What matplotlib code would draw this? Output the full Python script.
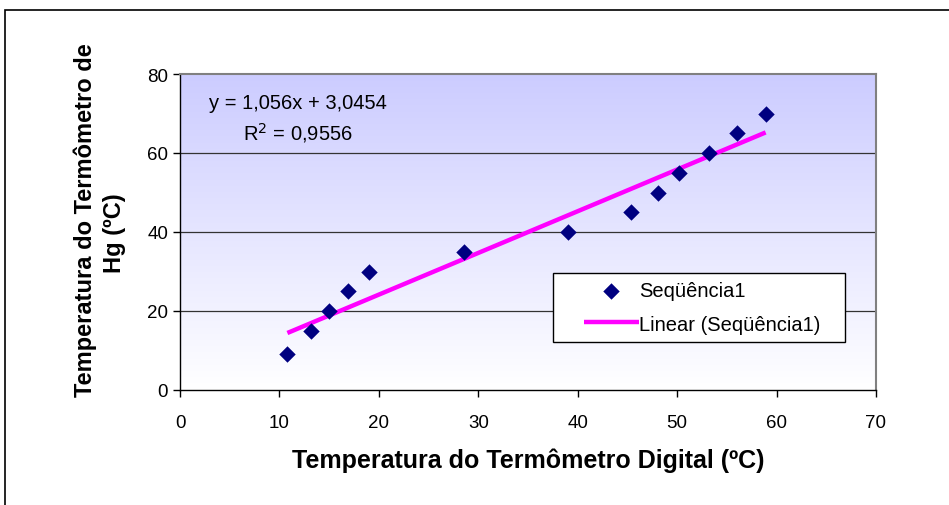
import numpy as np
import matplotlib
matplotlib.use("Agg")
import matplotlib.pyplot as plt
from matplotlib.patches import Rectangle
from matplotlib.legend_handler import HandlerLine2D, HandlerPathCollection

x_digital = [10.8, 13.2, 15.0, 16.9, 19.0, 28.6, 39.0, 45.4, 48.1, 50.2, 53.2, 56.0, 58.9]
y_hg = [9, 15, 20, 25, 30, 35, 40, 45, 50, 55, 60, 65, 70]
series_label = "Seqüência1"
trend_label = "Linear (Seqüência1)"
equation_text = "y = 1,056x + 3,0454"
r2_text = "R$^2$ = 0,9556"
x_label = "Temperatura do Termômetro Digital (ºC)"
y_label_lines = ["Temperatura do Termômetro de", "Hg (ºC)"]
x_ticks = [0, 10, 20, 30, 40, 50, 60, 70]
y_ticks = [0, 20, 40, 60, 80]

plt.rcParams['font.family'] = ['Liberation Sans', 'DejaVu Sans']

W, H = 949, 506
fig = plt.figure(figsize=(W / 100, H / 100), dpi=100)
fig.patch.set_facecolor('white')

# outer chart border
fig.patches.append(Rectangle((5 / W, -0.2), 1.2, 1.2 - 11 / H, transform=fig.transFigure,
                             fill=False, edgecolor='black', linewidth=1.2))

ax = fig.add_axes([180 / W, 1 - 391 / H, 696 / W, 316 / H])
ax.set_xlim(0, 70)
ax.set_ylim(0, 80)

# gradient background
grad = np.linspace(0, 1, 256).reshape(-1, 1)
top = np.array([204, 204, 255]) / 255.0
bot = np.array([255, 255, 255]) / 255.0
img = (bot + (top - bot) * grad).reshape(256, 1, 3)
ax.imshow(img, extent=[0, 70, 0, 80], origin='lower', aspect='auto', zorder=0)

for yv in y_ticks[1:-1]:
    ax.axhline(yv, color='#333333', linewidth=0.9, zorder=1)

xs = np.array(x_digital)
ys = np.array(y_hg)
coef = np.polyfit(xs, ys, 1)
xl = np.array([xs.min(), xs.max()])
ax.plot(xl, np.polyval(coef, xl), color='#FF00FF', linewidth=3.2, zorder=3, label=trend_label,
        solid_capstyle='butt')
ax.scatter(xs, ys, marker='D', s=70, color='#000080', zorder=4, label=series_label, linewidths=0)

ax.set_xticks(x_ticks)
ax.set_yticks(y_ticks)
ax.tick_params(axis='both', direction='out', length=5, width=1, labelsize=13.5, color='black')
ax.tick_params(axis='x', pad=12)
for s in ['left', 'bottom']:
    ax.spines[s].set_color('black')
    ax.spines[s].set_linewidth(1)
for s in ['top', 'right']:
    ax.spines[s].set_color('#808080')
    ax.spines[s].set_linewidth(1.5)
ax.spines['bottom'].set_zorder(5)

ax.set_xlabel(x_label, fontsize=18, fontweight='bold', labelpad=12)

# y axis title (two centred lines, as in the reference)
fig.text(85 / W, 1 - 220 / H, y_label_lines[0], rotation=90, fontsize=17, fontweight='bold',
         ha='center', va='center')
fig.text(115 / W, 1 - 233 / H, y_label_lines[1], rotation=90, fontsize=17, fontweight='bold',
         ha='center', va='center')

ax.text(0.1695, 0.911, equation_text, transform=ax.transAxes, fontsize=14.5, ha='center', va='center')
ax.text(0.1695, 0.816, r2_text, transform=ax.transAxes, fontsize=14.5, ha='center', va='center')

SKIP = 1.1


class ShiftedLine(HandlerLine2D):
    def get_xdata(self, legend, xdescent, ydescent, width, height, fontsize):
        x0 = -xdescent + SKIP * fontsize
        x1 = -xdescent + width
        return np.array([x0, x1]), np.array([(x0 + x1) / 2])


class ShiftedPoints(HandlerPathCollection):
    def get_xdata(self, legend, xdescent, ydescent, width, height, fontsize):
        x0 = -xdescent + SKIP * fontsize
        x1 = -xdescent + width
        return np.array([x0, x1]), np.array([(x0 + x1) / 2])


handles, labels = ax.get_legend_handles_labels()
order = [1, 0]
hs = [handles[i] for i in order]
leg = ax.legend(hs, [labels[i] for i in order],
                handler_map={hs[0]: ShiftedPoints(), hs[1]: ShiftedLine()},
                loc='lower left', bbox_to_anchor=(0.536, 0.152, 0.419, 0.225), mode='expand',
                fontsize=14.5, frameon=True, fancybox=False, edgecolor='black', framealpha=1,
                handlelength=3.85, borderaxespad=0, labelspacing=0.72, handletextpad=0.0,
                borderpad=0.42, scatterpoints=1)
leg.get_frame().set_linewidth(1)

fig.savefig('out.png', dpi=100)
